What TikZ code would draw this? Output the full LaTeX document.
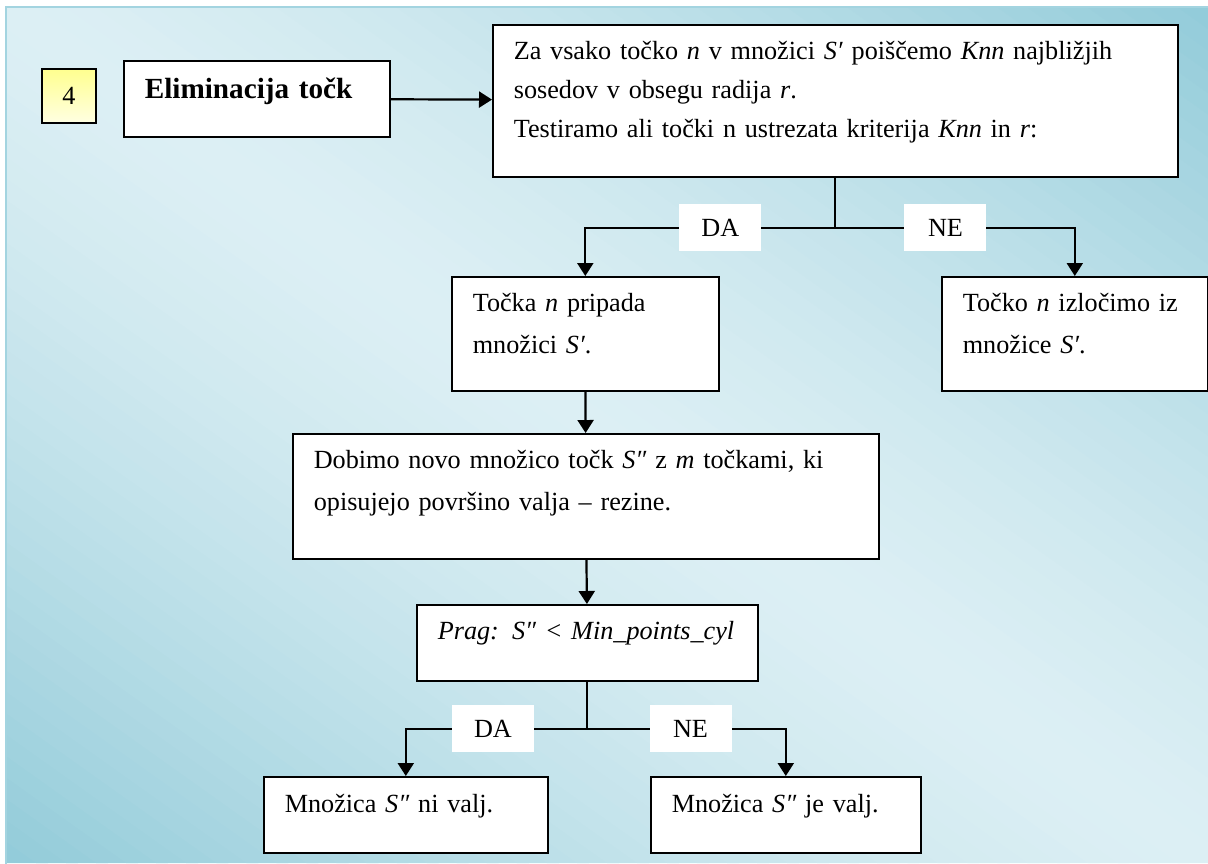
\documentclass[tikz,border=0pt]{standalone}
\usepackage{fontspec}
\setmainfont{Liberation Serif}
\usetikzlibrary{arrows.meta}
\usetikzlibrary{calc}

\newcommand{\txtsize}{\fontsize{13.1pt}{21pt}\selectfont}

\definecolor{paneldark}{HTML}{92CBD9}
\definecolor{panellight}{HTML}{DCEFF4}
\definecolor{panelline}{HTML}{A3D4E0}
\definecolor{numtop}{HTML}{FFFF8F}
\definecolor{numbottom}{HTML}{FFFFE2}

\begin{document}
\begin{tikzpicture}[x=0.5pt, y=-0.5pt,
	tbox/.style n args={3}{draw, fill=white, line width=0.8pt, anchor=north west, inner xsep=10.5pt, inner ysep=0pt, align=left, font=\txtsize, text width=#1, text height=#2, text depth=#3},
	numbox/.style={draw, line width=0.8pt, minimum size=27pt, inner sep=0pt, top color=numtop, bottom color=numbottom, font=\txtsize},
	tag/.style={fill=white, minimum width=41pt, minimum height=23.5pt, inner sep=0pt, font=\txtsize},
	arr/.style={-{Triangle[length=6.5pt,width=8pt]}, line width=1.1pt}]
\useasboundingbox (0,0) rectangle (1208,863);
\fill[white] (0,0) rectangle (1208,863);
\begin{scope}
\clip (6,7) rectangle (1208,863);
\foreach \k in {0,...,79}{
	\pgfmathsetmacro{\c}{-1+\k*0.025}
	\pgfmathsetmacro{\dk}{100*abs(\c+0.0125)^1.4}
	\fill[paneldark!\dk!panellight] ({6+\c*1202},7) -- ({6+(\c+0.035)*1202},7) -- ({6+(\c+1.035)*1202},863) -- ({6+(\c+1)*1202},863) -- cycle;
}
\end{scope}
\draw[panelline, line width=1pt] (6,7) rectangle (1212,867);

\node[numbox] (num) at (69,96) {4};
\node[tbox={112pt}{19pt}{19pt}, font=\bfseries\fontsize{14.6pt}{22pt}\selectfont] (elim) at (123,60) {Eliminacija točk};
\node[tbox={321.5pt}{17.5pt}{58.5pt}, font=\fontsize{13.1pt}{19.5pt}\selectfont] (test) at (492,24) {Za vsako točko \textit{n} v množici \textit{S′} poiščemo \textit{Knn} najbližjih\\ sosedov v obsegu radija \textit{r}.\\ Testiramo ali točki n ustrezata kriterija \textit{Knn} in \textit{r}:};
\node[tbox={112.5pt}{17.5pt}{39.5pt}] (keep) at (451,276) {Točka \textit{n} pripada\\ množici \textit{S′}.};
\node[tbox={112pt}{17.5pt}{39.5pt}] (drop) at (941,276) {Točko \textit{n} izločimo iz\\ množice \textit{S′}.};
\node[tbox={272pt}{17.5pt}{45pt}] (newset) at (292,433) {Dobimo novo množico točk \textit{S″} z \textit{m} točkami, ki\\ opisujejo površino valja – rezine.};
\node[tbox={149.5pt}{17.5pt}{20.5pt}] (prag) at (416,604) {\mbox{\textit{Prag: S″ < Min\_points\_cyl}}};
\node[tbox={121pt}{18pt}{20pt}] (notcyl) at (263,776) {Množica \textit{S″} ni valj.};
\node[tbox={114pt}{18pt}{20pt}] (iscyl) at (650,776) {Množica \textit{S″} je valj.};

\coordinate (fork1) at ($(test.south)+(0,50)$);
\coordinate (fork2) at ($(prag.south)+(0,47)$);

\path[arr]
(elim) edge (test)
(keep) edge (newset)
(newset) edge (prag)
;
\draw[arr] (test.south) -- (fork1) -| node[tag, pos=.23] (yes1) {DA} (keep.north);
\draw[arr] (fork1) -| node[tag, pos=.23] (no1) {NE} (drop.north);
\draw[arr] (prag.south) -- (fork2) -| node[tag, pos=.26] (yes2) {DA} (notcyl.north);
\draw[arr] (fork2) -| node[tag, pos=.26] (no2) {NE} (iscyl.north);
\end{tikzpicture}
\end{document}
